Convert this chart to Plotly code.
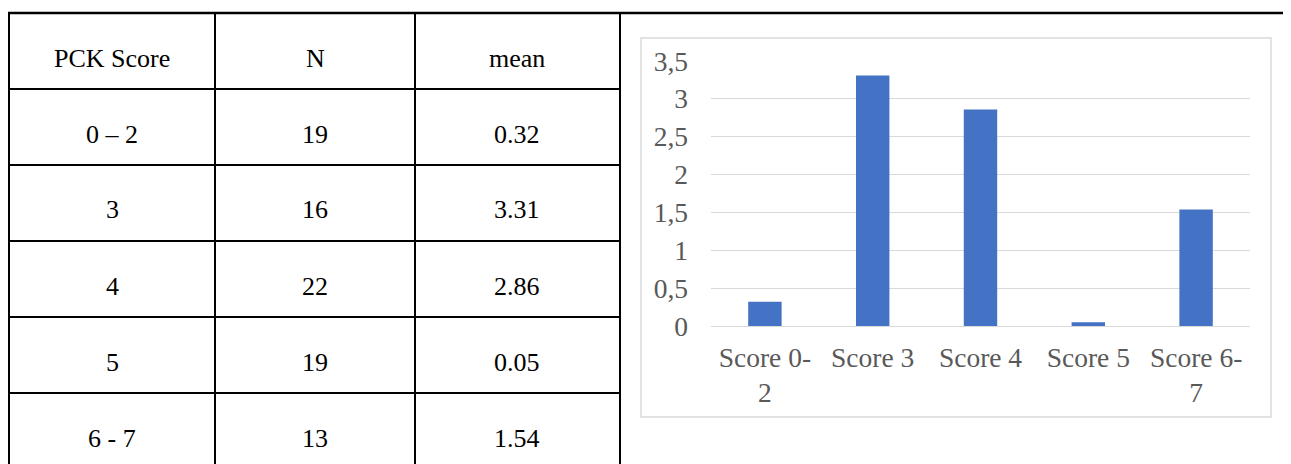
import plotly.graph_objects as go

# ---- data ----
table_header = ["PCK Score", "N", "mean"]
score_ranges = ["0 \u2013 2", "3", "4", "5", "6 - 7"]
n_values = [19, 16, 22, 19, 13]
mean_values = [0.32, 3.31, 2.86, 0.05, 1.54]
chart_categories = ["Score 0-<br>2", "Score 3", "Score 4", "Score 5", "Score 6-<br>7"]
y_ticks = [0, 0.5, 1, 1.5, 2, 2.5, 3, 3.5]

# page body has an 8px margin; figure sized to fill the rest of the window
OFF = 8
W, H = 1291 - OFF, 464 - OFF


def px(x):
    return (x - OFF) / W


def py(y):
    return 1 - (y - OFF) / H


fig = go.Figure()
fig.add_trace(go.Bar(
    x=chart_categories, y=mean_values,
    marker=dict(color="#4472C4", line=dict(width=0)),
    hoverinfo="x+y",
))

shapes = []
col_x = [9, 215, 415, 620]
row_y = [89, 165, 241, 317, 393]
shapes.append(dict(type="line", xref="paper", yref="paper",
                   x0=px(8), x1=px(1300), y0=py(13), y1=py(13),
                   line=dict(color="black", width=2.5)))
for cx in col_x:
    shapes.append(dict(type="line", xref="paper", yref="paper",
                       x0=px(cx), x1=px(cx), y0=py(13), y1=py(470),
                       line=dict(color="black", width=2)))
for ry in row_y:
    shapes.append(dict(type="line", xref="paper", yref="paper",
                       x0=px(9), x1=px(620), y0=py(ry), y1=py(ry),
                       line=dict(color="black", width=2)))
shapes.append(dict(type="rect", xref="paper", yref="paper",
                   x0=px(641), x1=px(1271), y0=py(38), y1=py(417),
                   line=dict(color="#d9d9d9", width=1.5), fillcolor="rgba(0,0,0,0)"))

annotations = []
col_cx = [112, 315, 517]
row_cy = [58, 134, 210, 286, 362, 438]
tfont = dict(family="Liberation Serif", size=26, color="black")
for j, h in enumerate(table_header):
    annotations.append(dict(text=h, x=px(col_cx[j]), y=py(row_cy[0]), xref="paper", yref="paper",
                            showarrow=False, xanchor="center", yanchor="middle", font=tfont))
for i in range(len(score_ranges)):
    vals = [score_ranges[i], str(n_values[i]), f"{mean_values[i]:.2f}"]
    for j, v in enumerate(vals):
        annotations.append(dict(text=v, x=px(col_cx[j]), y=py(row_cy[i + 1]), xref="paper", yref="paper",
                                showarrow=False, xanchor="center", yanchor="middle", font=tfont))

cfont = dict(family="Liberation Serif", size=27.5, color="#595959")
fig.update_layout(
    width=W, height=H,
    margin=dict(l=0, r=0, t=0, b=0, autoexpand=False),
    paper_bgcolor="white", plot_bgcolor="white",
    separators=",.",
    showlegend=False,
    bargap=0.69,
    shapes=shapes,
    annotations=annotations,
    xaxis=dict(domain=[px(711), px(1250)], showgrid=False, showline=False, zeroline=False,
               tickfont=cfont, ticks="", ticklabelstandoff=12, automargin=False, fixedrange=True),
    yaxis=dict(domain=[py(326), py(61)], range=[0, 3.5], tickvals=y_ticks,
               showgrid=True, gridcolor="#d9d9d9", gridwidth=1, zeroline=True,
               zerolinecolor="#d9d9d9", zerolinewidth=1, showline=False,
               tickfont=cfont, ticks="", ticklabelstandoff=22, automargin=False, fixedrange=True),
)

fig.write_html("out.html")
